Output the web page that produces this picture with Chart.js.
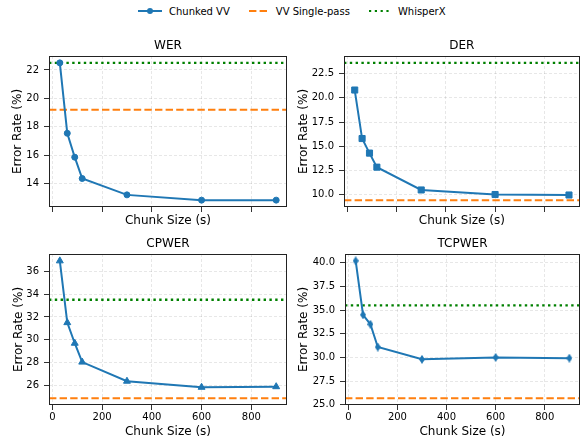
<!DOCTYPE html>
<html>
<head>
<meta charset="utf-8">
<script src="https://cdn.jsdelivr.net/npm/chart.js@4.4.1/dist/chart.umd.min.js"></script>
<style>
body { margin: 0; width: 585px; height: 441px; background: #fff; position: relative; overflow: hidden; font-family: "DejaVu Sans", sans-serif; }
canvas { position: absolute; }
#legend { position: absolute; top: 4px; left: 138px; height: 14px; display: flex; align-items: center; font-size: 10px; color: #000; white-space: nowrap; }
#legend svg { margin-right: 7px; }
#legend span { margin-right: 19px; }
</style>
</head>
<body>
<div id="legend">
  <svg width="24" height="10"><line x1="0" y1="5" x2="24" y2="5" stroke="#1f77b4" stroke-width="2"/><circle cx="12" cy="5" r="3" fill="#1f77b4"/></svg><span>Chunked VV</span>
  <svg width="20" height="10"><line x1="0" y1="5" x2="20" y2="5" stroke="#ff7f0e" stroke-width="2" stroke-dasharray="7.4 3.2"/></svg><span>VV Single-pass</span>
  <svg width="22" height="10"><line x1="0" y1="5" x2="22" y2="5" stroke="#008000" stroke-width="2.2" stroke-dasharray="2.2 3.6"/></svg><span>WhisperX</span>
</div>
<canvas id="c-wer" width="292" height="200"></canvas>
<canvas id="c-der" width="293" height="200"></canvas>
<canvas id="c-cpwer" width="292" height="211"></canvas>
<canvas id="c-tcpwer" width="293" height="211"></canvas>
<script>
// chunk sizes in seconds
const chunkSizes = [30, 60, 90, 120, 300, 600, 900]

const werChunked = [22.5, 17.55, 15.87, 14.37, 13.22, 12.85, 12.85]
const derChunked = [20.8, 15.8, 14.3, 12.85, 10.5, 10.03, 9.98]
const cpwerChunked = [36.9, 31.5, 29.7, 28.05, 26.38, 25.85, 25.9]
const tcpwerChunked = [40.2, 34.5, 33.5, 31.1, 29.8, 30.0, 29.92]

const singlePass = [19.2, 9.45, 24.9, 25.7]   // WER, DER, CPWER, TCPWER
const whisperX = [22.5, 23.6, 33.5, 35.5]

const metricNames = ['WER', 'DER', 'CPWER', 'TCPWER']
const yStep = [2, 2.5, 2, 2.5]
const yDecimals = [0, 1, 0, 1]
const xStep = 200

const blue = '#1f77b4'
const orange = '#ff7f0e'
const green = '#008000'
const font = '"DejaVu Sans", sans-serif'

function thinDiamond(color) {
    const c = document.createElement('canvas')
    c.width = 6
    c.height = 9
    const g = c.getContext('2d')
    g.fillStyle = color
    g.beginPath()
    g.moveTo(3, 0)
    g.lineTo(6, 4.5)
    g.lineTo(3, 9)
    g.lineTo(0, 4.5)
    g.closePath()
    g.fill()
    return c
}

// page layout of each panel: canvas box, axes box, title centres
const panels = [
    { id: 'c-wer', series: werChunked, canvas: [0, 30, 292, 200], axes: [49, 56, 287, 207], yTitleX: 18, xTitleY: 220.5, xLabels: false, marker: 'circle', radius: 3 },
    { id: 'c-der', series: derChunked, canvas: [292, 30, 293, 200], axes: [344, 56, 583, 207], yTitleX: 303.5, xTitleY: 220.5, xLabels: false, marker: 'rect', radius: 4.3 },
    { id: 'c-cpwer', series: cpwerChunked, canvas: [0, 230, 292, 211], axes: [49, 254, 287, 405], yTitleX: 18.5, xTitleY: 431.5, xLabels: true, marker: 'triangle', radius: 4 },
    { id: 'c-tcpwer', series: tcpwerChunked, canvas: [292, 230, 293, 211], axes: [345, 254, 583, 405], yTitleX: 304, xTitleY: 431.5, xLabels: true, marker: thinDiamond(blue), radius: 4 }
]

const xMin = chunkSizes[0] - 0.05 * (chunkSizes[chunkSizes.length - 1] - chunkSizes[0])
const xMax = chunkSizes[chunkSizes.length - 1] + 0.05 * (chunkSizes[chunkSizes.length - 1] - chunkSizes[0])

const framePlugin = {
    id: 'frame',
    afterDraw(chart, args, opts) {
        const { ctx, chartArea: a } = chart
        ctx.save()
        ctx.strokeStyle = '#222'
        ctx.lineWidth = 1
        ctx.strokeRect(Math.round(a.left) + 0.5, Math.round(a.top) + 0.5, Math.round(a.right - a.left) - 1, Math.round(a.bottom - a.top) - 1)
        ctx.fillStyle = '#000'
        ctx.font = '12px ' + font
        ctx.textAlign = 'center'
        ctx.textBaseline = 'middle'
        ctx.fillText(opts.text, (a.left + a.right) / 2, a.top - 10)
        ctx.restore()
    }
}

panels.forEach((p, i) => {
    const [cx, cy, cw, ch] = p.canvas
    const [al, at, ar, ab] = p.axes
    const el = document.getElementById(p.id)
    el.style.left = cx + 'px'
    el.style.top = cy + 'px'

    const all = p.series.concat([singlePass[i], whisperX[i]])
    const lo = Math.min(...all)
    const hi = Math.max(...all)
    const yMin = lo - 0.05 * (hi - lo)
    const yMax = hi + 0.05 * (hi - lo)

    const yWidth = al - cx
    const xHeight = cy + ch - ab

    new Chart(el, {
        type: 'line',
        data: {
            datasets: [
                {
                    label: 'Chunked VV',
                    data: chunkSizes.map((x, k) => ({ x: x, y: p.series[k] })),
                    borderColor: blue,
                    backgroundColor: blue,
                    borderWidth: 2,
                    pointStyle: p.marker,
                    pointRadius: p.radius,
                    pointBorderWidth: 1,
                    tension: 0
                },
                {
                    label: 'VV Single-pass',
                    data: [{ x: xMin, y: singlePass[i] }, { x: xMax, y: singlePass[i] }],
                    borderColor: orange,
                    borderWidth: 2,
                    borderDash: [7.4, 3.2],
                    pointRadius: 0
                },
                {
                    label: 'WhisperX',
                    data: [{ x: xMin, y: whisperX[i] }, { x: xMax, y: whisperX[i] }],
                    borderColor: green,
                    borderWidth: 2.4,
                    borderDash: [2.4, 3.4],
                    pointRadius: 0
                }
            ]
        },
        options: {
            responsive: false,
            animation: false,
            devicePixelRatio: 1,
            layout: { padding: { left: 0, top: at - cy, right: cx + cw - ar, bottom: 0 } },
            plugins: {
                legend: { display: false },
                tooltip: { enabled: false },
                frame: { text: metricNames[i] }
            },
            scales: {
                x: {
                    type: 'linear',
                    min: xMin,
                    max: xMax,
                    afterFit: s => { s.height = xHeight },
                    ticks: {
                        stepSize: xStep,
                        includeBounds: false,
                        padding: 1,
                        color: '#000',
                        font: { family: font, size: 10 },
                        maxRotation: 0,
                        callback: v => p.xLabels ? String(v) : ''
                    },
                    grid: {
                        color: 'rgba(0,0,0,0.12)',
                        lineWidth: 0.8,
                        drawTicks: true,
                        tickLength: 5,
                        tickColor: '#333',
                        tickWidth: 1,
                        tickBorderDash: []
                    },
                    border: { display: false, dash: [3, 2] },
                    title: {
                        display: true,
                        text: 'Chunk Size (s)',
                        color: '#000',
                        font: { family: font, size: 12, lineHeight: 1.2 },
                        padding: { top: 0, bottom: ch - (p.xTitleY - cy) - 7.2 }
                    }
                },
                y: {
                    min: yMin,
                    max: yMax,
                    afterFit: s => { s.width = yWidth },
                    ticks: {
                        stepSize: yStep[i],
                        includeBounds: false,
                        padding: 5,
                        color: '#000',
                        font: { family: font, size: 10 },
                        callback: v => v.toFixed(yDecimals[i])
                    },
                    grid: {
                        color: 'rgba(0,0,0,0.12)',
                        lineWidth: 0.8,
                        drawTicks: true,
                        tickLength: 5,
                        tickColor: '#333',
                        tickWidth: 1,
                        tickBorderDash: []
                    },
                    border: { display: false, dash: [3, 2] },
                    title: {
                        display: true,
                        text: 'Error Rate (%)',
                        color: '#000',
                        font: { family: font, size: 12, lineHeight: 1.2 },
                        padding: { top: p.yTitleX - cx - 7.2, bottom: 0 }
                    }
                }
            }
        },
        plugins: [framePlugin]
    })
})
</script>
</body>
</html>
